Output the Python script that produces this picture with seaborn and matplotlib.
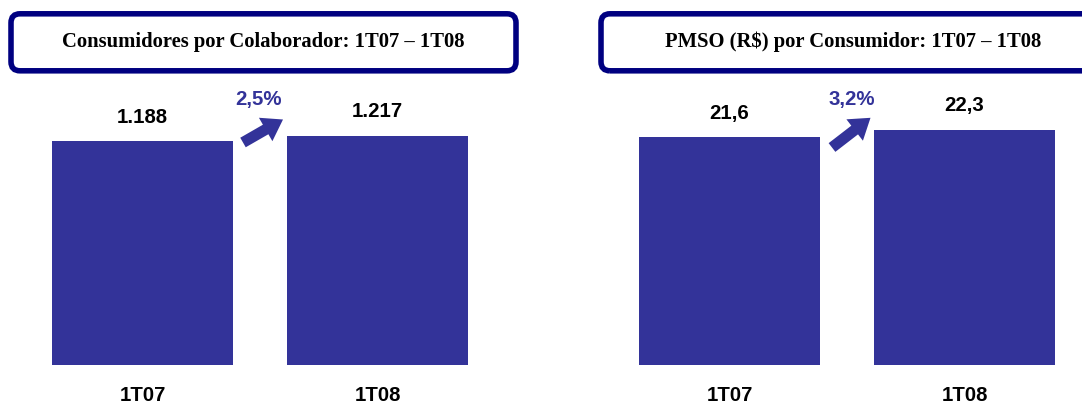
import matplotlib
matplotlib.use('Agg')
import matplotlib.pyplot as plt
import seaborn as sns
import pandas as pd
from matplotlib.patches import FancyBboxPatch, FancyArrow
from matplotlib.transforms import IdentityTransform

# ---- data ----
categories = ["1T07", "1T08"]
consumidores_values = [1188, 1217]
consumidores_labels = ["1.188", "1.217"]
pmso_values = [21.6, 22.3]
pmso_labels = ["21,6", "22,3"]
titles = ["Consumidores por Colaborador: 1T07 \u2013 1T08",
          "PMSO (R$) por Consumidor: 1T07 \u2013 1T08"]
growth_labels = ["2,5%", "3,2%"]

W, H = 1082, 403
sns.set_style('white')
plt.rcParams['font.family'] = ['Liberation Sans', 'DejaVu Sans']

BAR = '#333399'
NAVY = '#000080'

fig = plt.figure(figsize=(W / 100, H / 100), dpi=100)


def fx(px):
    return px / W


def fy(py_top):
    return 1 - py_top / H


panels = [
    dict(left=52, right=468, values=consumidores_values, labels=consumidores_labels,
         ymax=1591, box_x=11, title_cx=263.5, pct_x=258.5,
         arrow=((243.0, 142.5), (283.0, 119.5))),
    dict(left=639, right=1055, values=pmso_values, labels=pmso_labels,
         ymax=28.42, box_x=601, title_cx=853.5, pct_x=851.5,
         arrow=((832.0, 147.5), (870.5, 117.8))),
]

for k, p in enumerate(panels):
    ax = fig.add_axes([fx(p['left']), fy(365), fx(p['right'] - p['left']), (365 - 65) / H])
    df = pd.DataFrame({'cat': categories, 'val': p['values']})
    sns.barplot(data=df, x='cat', y='val', color=BAR, saturation=1, width=0.77,
                linewidth=0, ax=ax)
    ax.set_xlim(-0.385, 1.385)
    ax.set_ylim(0, p['ymax'])
    sns.despine(ax=ax, left=True, bottom=True)
    ax.set_yticks([])
    ax.set_xlabel('')
    ax.set_ylabel('')
    ax.patch.set_visible(False)
    ax.tick_params(axis='x', length=0, pad=25.9)
    for lbl in ax.get_xticklabels():
        lbl.set_fontsize(14.7)
        lbl.set_fontweight('bold')
        lbl.set_va('baseline')
        lbl.set_color('black')
    for i, (v, l) in enumerate(zip(p['values'], p['labels'])):
        ax.annotate(l, xy=(i, v), xytext=(0, 13.3), textcoords='offset points',
                    ha='center', va='baseline', fontsize=14.7, fontweight='bold',
                    color='black')

    # title box
    box = FancyBboxPatch((p['box_x'], H - 70.8), 505, 57,
                         boxstyle='round,pad=0,rounding_size=9',
                         facecolor='none', edgecolor=NAVY, linewidth=4,
                         transform=IdentityTransform())
    fig.add_artist(box)
    fig.text(fx(p['title_cx']), fy(46.7), titles[k], ha='center', va='baseline',
             fontsize=14.9, fontweight='bold', color='black',
             family=['Liberation Serif', 'DejaVu Serif'])

    # growth arrow + label
    (x0, y0), (x1, y1) = p['arrow']
    arr = FancyArrow(x0, H - y0, x1 - x0, -(y1 - y0), width=11, head_width=27,
                     head_length=20, length_includes_head=True, color=BAR,
                     linewidth=0, transform=IdentityTransform())
    fig.add_artist(arr)
    fig.text(fx(p['pct_x']), fy(104.5), growth_labels[k], ha='center', va='baseline',
             fontsize=14.7, fontweight='bold', color=BAR)

fig.savefig('out.png', dpi=100)
